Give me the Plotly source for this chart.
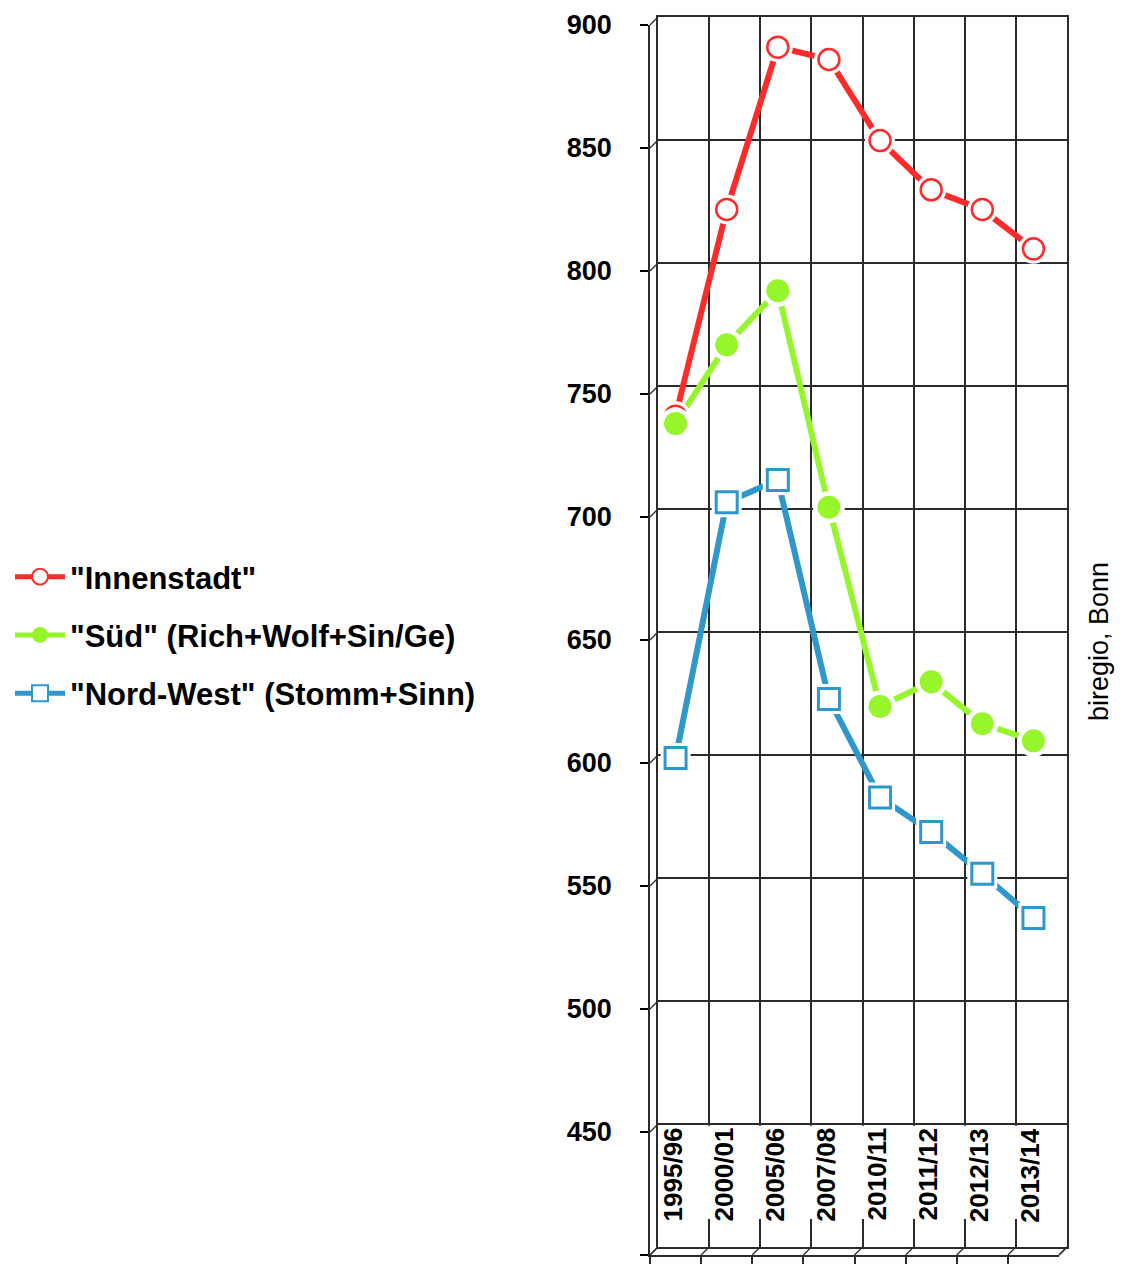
import numpy as np
import plotly.graph_objects as go

# school years (x categories)
periods = ["1995/96", "2000/01", "2005/06", "2007/08", "2010/11", "2011/12", "2012/13", "2013/14"]

# values per district group
innenstadt = [741, 825, 891, 886, 853, 833, 825, 809]
sued = [738, 770, 792, 704, 623, 633, 616, 609]
nordwest = [602, 706, 715, 626, 586, 572, 555, 537]

names = ['"Innenstadt"', '"Süd" (Rich+Wolf+Sin/Ge)', '"Nord-West" (Stomm+Sinn)']
y_ticks = list(range(400, 901, 50))

# the page body has an 8px margin, so pixel positions are measured from (8, 8)
OFF = 8
W, H = 1124 - OFF, 1265 - OFF
GRID = "#2b2b2b"
FONT = "Liberation Sans, Arial, sans-serif"


def px(x):
    return (x - OFF) / W


def py(y):
    return 1 - (y - OFF) / H


series = [
    dict(name=names[0], y=innenstadt, color="#ff2b2b", symbol="circle", size=21, fill="white", lw=2.5, width=6),
    dict(name=names[1], y=sued, color="#97f52b", symbol="circle", size=23, fill="#97f52b", lw=0, width=6),
    dict(name=names[2], y=nordwest, color="#2e98cc", symbol="square", size=21, fill="white", lw=3, width=6),
]

fig = go.Figure()

# lines (front plane)
for s in series:
    fig.add_trace(go.Scatter(x=periods, y=s["y"], mode="lines", xaxis="x2", yaxis="y2",
                             line=dict(color=s["color"], width=s["width"]),
                             showlegend=False, hoverinfo="skip"))

# white halo + markers
for s in series:
    fig.add_trace(go.Scatter(x=periods, y=s["y"], mode="markers", xaxis="x2", yaxis="y2",
                             marker=dict(color="white", size=s["size"] + 9, symbol=s["symbol"]),
                             showlegend=False, hoverinfo="skip"))
    fig.add_trace(go.Scatter(x=periods, y=s["y"], mode="markers", xaxis="x2", yaxis="y2",
                             marker=dict(color=s["fill"], size=s["size"], symbol=s["symbol"],
                                         line=dict(color=s["color"], width=s["lw"])),
                             name=s["name"], showlegend=False))

# legend entries
for i, s in enumerate(series):
    fig.add_trace(go.Scatter(x=[None], y=[None], mode="lines+markers", xaxis="x2", yaxis="y2",
                             name=s["name"], legendgroup=str(i),
                             line=dict(color=s["color"], width=5),
                             marker=dict(color=s["fill"], size=16, symbol=s["symbol"],
                                         line=dict(color=s["color"], width=min(s["lw"], 2)))))

# category labels inside the floor band
for p in periods:
    fig.add_annotation(x=p, y=452.5, xref="x2", yref="y2", text=p, textangle=-90,
                       showarrow=False, xanchor="center", yanchor="top", xshift=-3,
                       font=dict(family=FONT, size=26, color="black", weight="bold"))

fig.add_annotation(x=px(1099), y=py(642), xref="paper", yref="paper", text="biregio, Bonn",
                   textangle=-90, showarrow=False, xanchor="center", yanchor="middle",
                   font=dict(family=FONT, size=27, color="black"))

shapes = [
    # white band hiding the back grid behind the labels
    dict(type="rect", xref="x", yref="y", x0=-0.52, x1=7.46, y0=411.4, y1=449.3,
         fillcolor="white", line=dict(width=0), layer="above"),
]
# depth diagonals between front and back planes
diag = dict(type="line", xref="paper", yref="paper", line=dict(color=GRID, width=1.2))
for k in range(len(periods) + 1):
    fx = 650 + k * 409 / len(periods)
    shapes.append(dict(diag, x0=px(fx), y0=py(1255), x1=px(fx + 8), y1=py(1247)))
for v in y_ticks:
    fy = 25 + (900 - v) * 1230 / 500
    shapes.append(dict(diag, x0=px(650), y0=py(fy), x1=px(658), y1=py(fy - 8)))
shapes.append(dict(diag, x0=px(1059), y0=py(1255), x1=px(1067), y1=py(1247)))

fig.update_layout(
    width=W, height=H,
    margin=dict(l=0, r=0, t=0, b=0, autoexpand=False),
    paper_bgcolor="white",
    plot_bgcolor="rgba(0,0,0,0)",
    font=dict(family=FONT, color="black"),
    shapes=shapes,
    xaxis=dict(domain=[px(658), px(1067)], anchor="y", range=[-0.5, 7.5],
               tickvals=np.arange(len(periods) + 1) - 0.5, showticklabels=False, ticks="",
               showgrid=True, gridcolor=GRID, gridwidth=2, zeroline=False,
               showline=True, linecolor=GRID, linewidth=2, mirror=True, fixedrange=True),
    yaxis=dict(domain=[py(1247), py(17)], anchor="x", range=[400, 900], tickvals=y_ticks,
               showticklabels=False, ticks="", showgrid=True, gridcolor=GRID, gridwidth=2,
               zeroline=False, showline=True, linecolor=GRID, linewidth=2, mirror=True,
               fixedrange=True),
    xaxis2=dict(domain=[px(650), px(1059)], anchor="y2", type="category",
                categoryorder="array", categoryarray=periods, range=[-0.5, 7.5],
                tickson="boundaries", ticks="outside", ticklen=7, tickwidth=1.5, tickcolor=GRID,
                showticklabels=False, showgrid=False, zeroline=False,
                showline=True, linecolor=GRID, linewidth=1.5, fixedrange=True),
    yaxis2=dict(domain=[py(1255), py(25)], anchor="x2", range=[400, 900], tickvals=y_ticks,
                ticks="outside", ticklen=8, tickwidth=2, tickcolor="black",
                tickfont=dict(family=FONT, size=27, color="black", weight="bold"),
                ticklabelstandoff=23, showgrid=False, zeroline=False,
                showline=True, linecolor=GRID, linewidth=1.5, fixedrange=True),
    legend=dict(xref="container", yref="container", x=px(10), y=py(635),
                xanchor="left", yanchor="middle", bgcolor="rgba(0,0,0,0)",
                font=dict(family=FONT, size=31, color="black", weight="bold"),
                itemwidth=50, tracegroupgap=15, traceorder="grouped"),
)

fig.write_html("out.html")
